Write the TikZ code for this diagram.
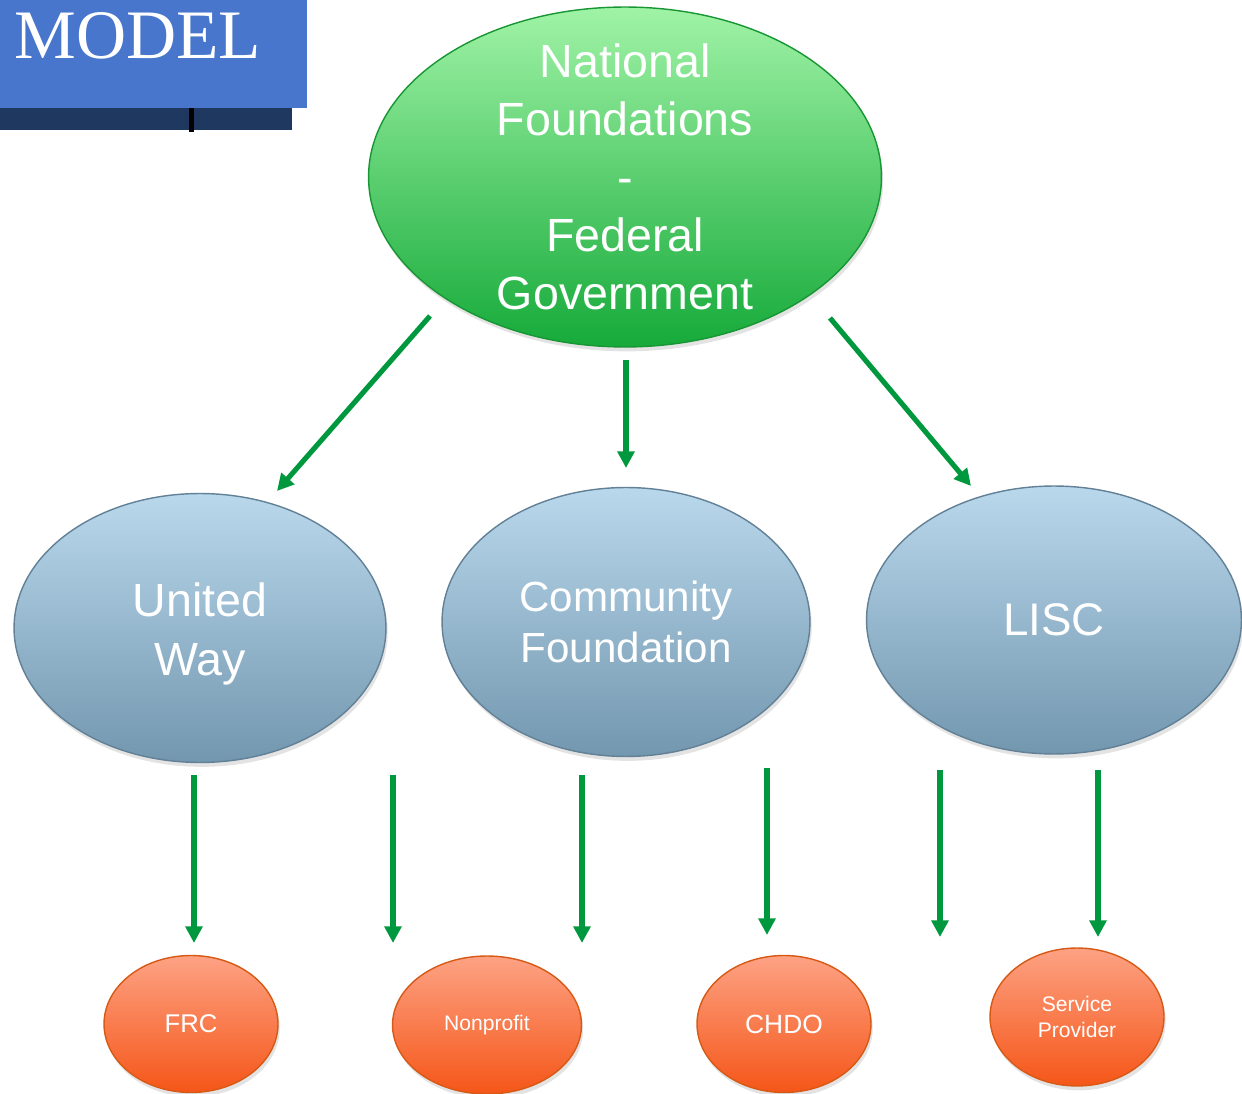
\documentclass[tikz,border=0pt]{standalone}
\usepackage{fontspec}
\setmainfont{Liberation Sans}
\newfontfamily\headfont{Liberation Serif}
\usepackage{tikz}
\usetikzlibrary{shapes.geometric, arrows.meta, shadows, positioning}

\definecolor{banner}{RGB}{72,118,204}
\definecolor{bannerbar}{RGB}{31,56,96}
\definecolor{nfTop}{RGB}{160,243,166}
\definecolor{nfBot}{RGB}{22,170,58}
\definecolor{nfLine}{RGB}{24,150,52}
\definecolor{midTop}{RGB}{186,216,236}
\definecolor{midBot}{RGB}{114,151,175}
\definecolor{midLine}{RGB}{98,128,150}
\definecolor{lowTop}{RGB}{253,162,132}
\definecolor{lowBot}{RGB}{245,86,24}
\definecolor{lowLine}{RGB}{214,90,22}
\definecolor{flowGreen}{RGB}{0,152,62}

\tikzset{
  %% Generic oval
  oval/.style={
    ellipse, inner sep=0pt, align=center, text=white,
    line width=0.8pt,
    drop shadow={opacity=0.22, shadow xshift=1pt, shadow yshift=-2.5pt}
  },
  %% Three funding levels
  topoval/.style={oval, draw=nfLine, top color=nfTop, bottom color=nfBot},
  midoval/.style={oval, draw=midLine, top color=midTop, bottom color=midBot},
  lowoval/.style={oval, draw=lowLine, top color=lowTop, bottom color=lowBot},
  %% Arrow
  flow/.style={-{Triangle[length=9.5pt,width=9.5pt]},
               draw=flowGreen, line width=2.9pt},
}

\begin{document}
\begin{tikzpicture}[x=0.02cm, y=-0.02cm]
  \useasboundingbox (0,0) rectangle (1242,1094);

  %% Title banner
  \fill[banner]    (0,0)   rectangle (307,108);
  \fill[bannerbar] (0,108) rectangle (292,130);
  \fill[black]     (189,108) rectangle (194,132);
  \node[anchor=base west, text=white, inner sep=0pt,
        font=\headfont\fontsize{39.5}{42}\selectfont] (model) at (14,59) {MODEL};

  %% Top level
  \node[topoval, minimum width=10.26cm, minimum height=6.8cm,
        label={[align=center, text=white,
                font=\fontsize{26.5}{33}\selectfont]center:National\\Foundations\\-\\Federal\\Government}]
       (nf) at (625,177) {};

  %% Intermediaries
  \node[midoval, minimum width=7.44cm, minimum height=5.38cm,
        font=\fontsize{26.5}{34}\selectfont] (uw) at (200,628)
       {\rule{0pt}{26pt}United\\Way};
  \node[midoval, minimum width=7.36cm, minimum height=5.38cm,
        font=\fontsize{24}{29}\selectfont] (cf) at (626,622) {Community\\Foundation};
  \node[midoval, minimum width=7.5cm, minimum height=5.36cm,
        font=\fontsize{26}{31}\selectfont] (lisc) at (1054,620) {LISC};

  %% Local groups
  \node[lowoval, minimum width=3.48cm, minimum height=2.74cm,
        font=\fontsize{14.6}{17}\selectfont] (frc) at (191,1024) {FRC};
  \node[lowoval, minimum width=3.78cm, minimum height=2.76cm,
        font=\fontsize{12}{14}\selectfont] (np) at (487,1025) {Nonprofit};
  \node[lowoval, minimum width=3.48cm, minimum height=2.74cm,
        font=\fontsize{15}{17}\selectfont] (chdo) at (784,1024) {CHDO};
  \node[lowoval, minimum width=3.48cm, minimum height=2.76cm,
        font=\fontsize{12}{14.4}\selectfont] (sp) at (1077,1017) {Service\\Provider};

  %% Arrows from the top level
  \coordinate (nfL) at (430,316);  \coordinate (uwIn)   at (277,491);
  \coordinate (nfC) at (626,360);  \coordinate (cfIn)   at (626,468);
  \coordinate (nfR) at (830,318);  \coordinate (liscIn) at (971,486);
  \draw[flow] (nfL) -- (uwIn);
  \draw[flow] (nfC) -- (cfIn);
  \draw[flow] (nfR) -- (liscIn);

  %% Arrows down to the local groups
  \foreach \i/\x/\ya/\yb in {1/194/775/943, 2/393/775/943, 3/582/775/943,
                             4/767/768/935, 5/940/770/937, 6/1098/770/937}{
    \coordinate (d\i a) at (\x,\ya);
    \coordinate (d\i b) at (\x,\yb);
    \draw[flow] (d\i a) -- (d\i b);
  }

\end{tikzpicture}
\end{document}
